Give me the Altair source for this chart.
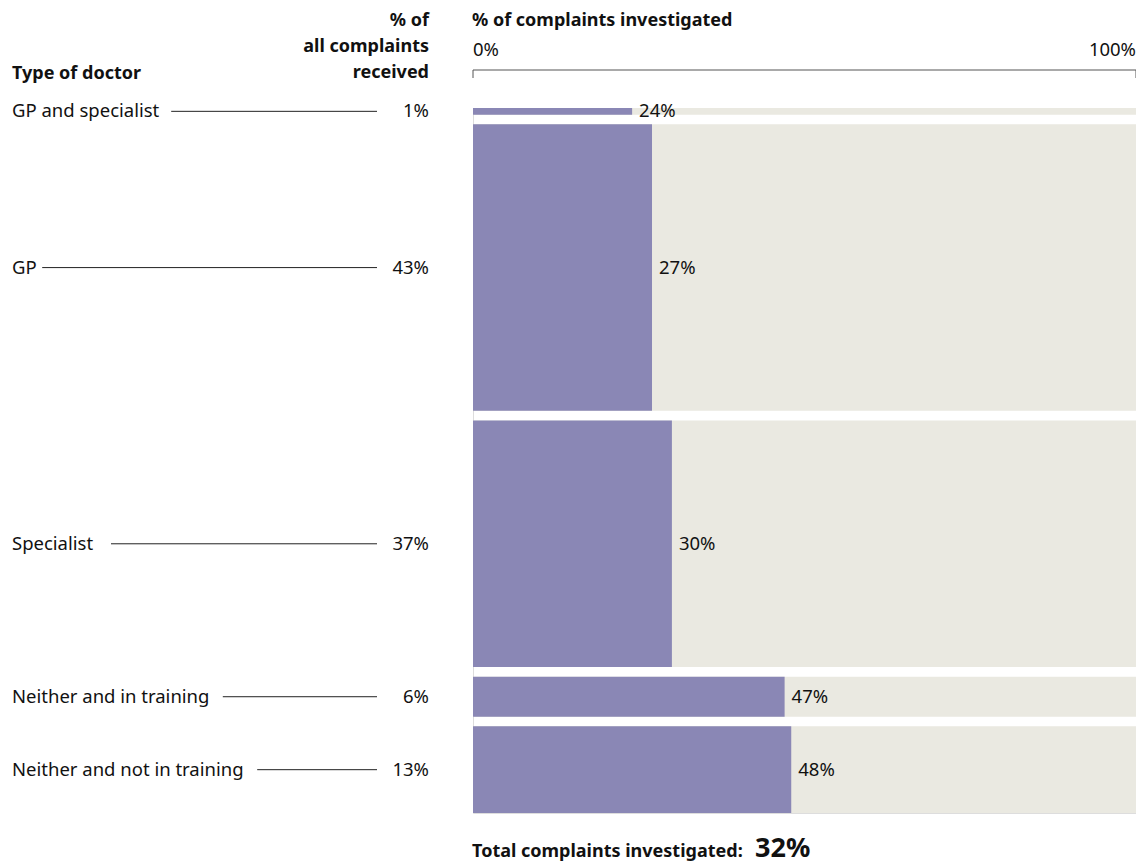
import altair as alt
import pandas as pd

# ---- data ----
types = ["GP and specialist", "GP", "Specialist", "Neither and in training", "Neither and not in training"]
share_received = [1, 43, 37, 6, 13]
pct_investigated = [24, 27, 30, 47, 48]
axis_ticks = [0, 100]
axis_tick_labels = ["0%", "100%"]
total_investigated = "32%"

# ---- layout constants ----
FONT = "Noto Sans"
W, H = 663, 705
PAD_L, PAD_T = 465, 100
GAP = 1.45  # gap between rows in share units
PURPLE = "#8a87b5"
BEIGE = "#eae9e1"
TEXT = "#111111"
FS = 18.5
FSB = 18
px_per_unit_x = W / 100.0

def rx(page_x):
    return page_x - 8 - PAD_L

def ry(page_y):
    return page_y - 8 - PAD_T

rows = []
cursor = 0.0
for t, s, p in zip(types, share_received, pct_investigated):
    y0, y1 = cursor, cursor + s
    cursor = y1 + GAP
    label_w = len(t) * 8.6
    line_start_px = rx(12 + label_w + 13)
    line_end_px = rx(377)
    rows.append(dict(
        type=t, share=s, inv=p, y0=y0, y1=y1, ymid=(y0 + y1) / 2,
        share_label=f"{s}%", inv_label=f"{p}%", zero=0, full=100,
        ls=line_start_px / px_per_unit_x, le=line_end_px / px_per_unit_x,
    ))
df = pd.DataFrame(rows)
total_units = cursor - GAP

xs = alt.Scale(domain=[0, 100], nice=False, zero=False)
ys = alt.Scale(domain=[0, total_units], reverse=True, nice=False, zero=False)

base = alt.Chart(df)

bg = base.mark_rect(color=BEIGE).encode(
    x=alt.X("zero:Q", scale=xs, axis=None),
    x2="full:Q",
    y=alt.Y("y0:Q", scale=ys, axis=None),
    y2="y1:Q",
)
fg = base.mark_rect(color=PURPLE).encode(
    x=alt.X("zero:Q", scale=xs, axis=None),
    x2="inv:Q",
    y=alt.Y("y0:Q", scale=ys, axis=None),
    y2="y1:Q",
)
inv_text = base.mark_text(align="left", baseline="middle", dx=7, font=FONT, fontSize=FS, color=TEXT).encode(
    x=alt.X("inv:Q", scale=xs, axis=None),
    y=alt.Y("ymid:Q", scale=ys, axis=None),
    text="inv_label:N",
)
type_text = base.mark_text(align="left", baseline="middle", font=FONT, fontSize=FS, color=TEXT).encode(
    x=alt.value(rx(12)),
    y=alt.Y("ymid:Q", scale=ys, axis=None),
    text="type:N",
)
share_text = base.mark_text(align="right", baseline="middle", font=FONT, fontSize=FS, color=TEXT).encode(
    x=alt.value(rx(429)),
    y=alt.Y("ymid:Q", scale=ys, axis=None),
    text="share_label:N",
)
leader = base.mark_rule(color="#222222", strokeWidth=1).encode(
    x=alt.X("ls:Q", scale=xs, axis=None),
    x2="le:Q",
    y=alt.Y("ymid:Q", scale=ys, axis=None),
)

# top axis bracket
axis_df = pd.DataFrame({"tick": axis_ticks, "label": axis_tick_labels})
bracket_line = alt.Chart(pd.DataFrame({"a": [0], "b": [100]})).mark_rule(color="#555555", strokeWidth=1).encode(
    x=alt.X("a:Q", scale=xs, axis=None), x2="b:Q", y=alt.value(ry(70))
)
bracket_ticks = alt.Chart(axis_df).mark_rule(color="#555555", strokeWidth=1).encode(
    x=alt.X("tick:Q", scale=xs, axis=None), y=alt.value(ry(70)), y2=alt.value(ry(78))
)
tick_left = alt.Chart(axis_df.iloc[[0]]).mark_text(align="left", baseline="middle", font=FONT, fontSize=FS, color=TEXT).encode(
    x=alt.X("tick:Q", scale=xs, axis=None), y=alt.value(ry(50)), text="label:N"
)
tick_right = alt.Chart(axis_df.iloc[[1]]).mark_text(align="right", baseline="middle", font=FONT, fontSize=FS, color=TEXT).encode(
    x=alt.X("tick:Q", scale=xs, axis=None), y=alt.value(ry(50)), text="label:N"
)

def fixed_text(txt, x, y, align="left", bold=True, size=FSB, baseline="middle"):
    return alt.Chart(pd.DataFrame({"t": [txt]})).mark_text(
        align=align, baseline=baseline, font=FONT, fontSize=size,
        fontWeight="bold" if bold else "normal", color=TEXT,
    ).encode(x=alt.value(x), y=alt.value(y), text="t:N")

headers = [
    fixed_text("% of", rx(429), ry(21), align="right"),
    fixed_text("all complaints", rx(429), ry(47), align="right"),
    fixed_text("received", rx(429), ry(73), align="right"),
    fixed_text("Type of doctor", rx(12), ry(74)),
    fixed_text("% of complaints investigated", rx(472), ry(21)),
    fixed_text("Total complaints investigated:", rx(472), ry(857), baseline="alphabetic"),
    fixed_text(total_investigated, rx(755), ry(857), size=27, baseline="alphabetic"),
]

chart = alt.layer(
    bg, fg, leader, type_text, share_text, inv_text,
    bracket_line, bracket_ticks, tick_left, tick_right, *headers
).properties(
    width=W, height=H,
    autosize=alt.AutoSizeParams(type="none"),
    padding={"left": PAD_L, "top": PAD_T, "right": 0, "bottom": 52},
).configure_view(stroke=None).configure(background="white")

chart.save("out.html", embed_options={"renderer": "svg", "actions": False})
